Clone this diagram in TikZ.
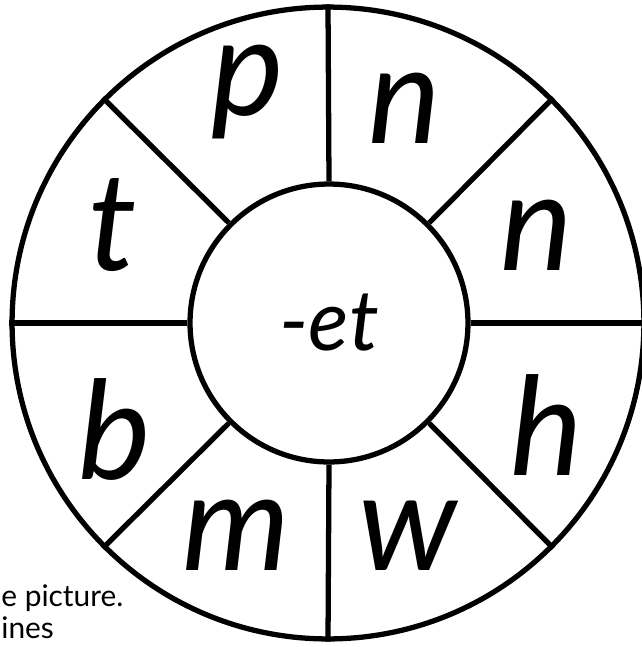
\documentclass[tikz,border=0pt]{standalone}
\usepackage{fontspec}
\setmainfont{Lato}
\usepackage{tikz}
\usetikzlibrary{positioning}

\begin{document}
\begin{tikzpicture}[
  x=0.02cm, y=-0.02cm,
  ring/.style={circle, draw=black, line width=3pt, inner sep=0pt},
  spoke/.style={draw=black, line width=3pt},
  lt/.style={font=\fontsize{78}{78}\selectfont\itshape, anchor=base, inner sep=0pt},
  tag/.style={font=\fontsize{17}{17}\selectfont, anchor=base west, inner sep=0pt}
]
\useasboundingbox (0,0) rectangle (642,647);

% ===== wheel =====
\node[ring, minimum size=12.64cm] (rim) at (328,323) {};
\node[ring, minimum size=5.56cm, font=\fontsize{48}{48}\selectfont\itshape] (hub) at (329,323) {-et};
\foreach \a in {0,45,...,315}
  \draw[spoke] (hub.\a) -- (rim.\a);

% ===== letters =====
\node[lt] (lp) at (248,115) {p};
\node[lt] (ln1) at (405,143) {n};
\node[lt] (ln2) at (537,270) {n};
\node[lt] (lh) at (547,475) {h};
\node[lt] (lw) at (408,570) {w};
\node[lt] (lm) at (236,570) {m};
\node[lt] (lb) at (115,479) {b};
\node[lt] (lt1) at (113,270) {t};

% ===== text at the lower left =====
\node[tag] (cap1) at (1,606) {e picture.};
\node[tag] (cap2) at (1,638) {ines};
\end{tikzpicture}
\end{document}
